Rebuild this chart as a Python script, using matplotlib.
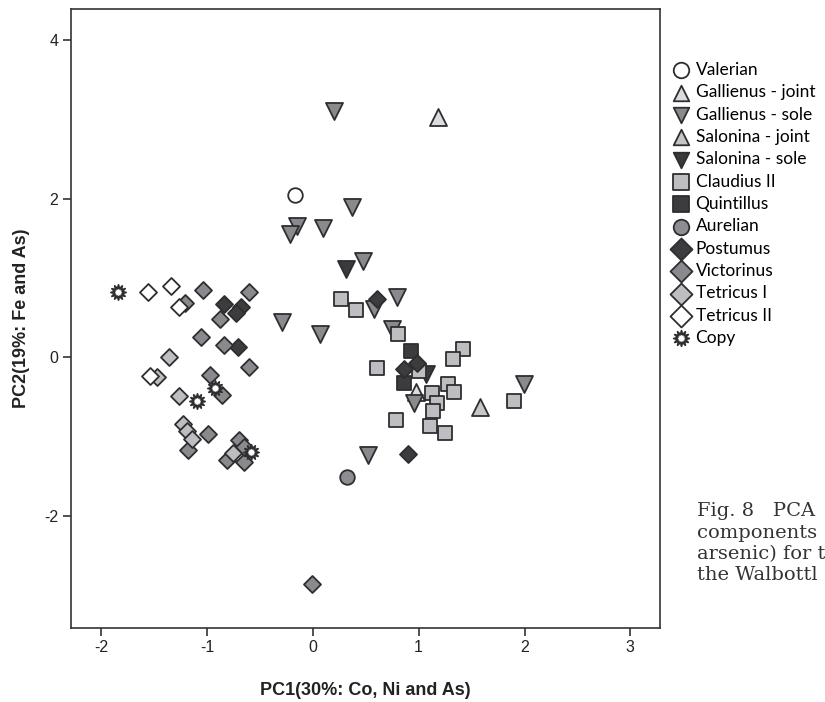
import matplotlib
matplotlib.use("Agg")
import matplotlib.pyplot as plt

# ---- data (PC1, PC2) per group ----
valerian_x = [-0.166]
valerian_y = [2.05]
gall_joint_x = [1.179, 0.977]
gall_joint_y = [3.03, -0.43]
gall_sole_x = [0.196, 0.37, -0.15, -0.214, 0.10, 0.47, 0.798, 0.574, -0.292, 0.07, 0.748, 0.958, 1.998, 0.52]
gall_sole_y = [3.10, 1.89, 1.65, 1.56, 1.63, 1.21, 0.76, 0.605, 0.45, 0.30, 0.353, -0.58, -0.34, -1.23]
salo_joint_x = [1.576]
salo_joint_y = [-0.62]
salo_sole_x = [0.316, 1.07]
salo_sole_y = [1.12, -0.21]
claudius_x = [0.268, 0.41, 0.804, 1.42, 1.324, 0.606, 1.006, 1.125, 1.173, 1.135, 1.11, 1.251, 0.788, 1.277, 1.33, 1.903]
claudius_y = [0.73, 0.60, 0.30, 0.105, -0.02, -0.13, -0.172, -0.446, -0.58, -0.677, -0.866, -0.95, -0.79, -0.337, -0.433, -0.547]
quintillus_x = [0.93, 0.858]
quintillus_y = [0.083, -0.32]
aurelian_x = [0.322]
aurelian_y = [-1.51]
postumus_x = [0.606, 0.864, 0.984, 0.896, -0.837, -0.68, -0.727, -0.708]
postumus_y = [0.73, -0.143, -0.068, -1.22, 0.67, 0.63, 0.56, 0.126]
victorinus_x = [-1.039, -0.601, -1.21, -0.88, -1.058, -0.837, -0.601, -0.97, -0.859, -1.18, -0.986, -0.70, -0.806, -0.648, -0.648, -0.009]
victorinus_y = [0.85, 0.82, 0.68, 0.48, 0.26, 0.155, -0.126, -0.227, -0.475, -1.169, -0.96, -1.04, -1.295, -1.316, -1.127, -2.85]
tetricus1_x = [-1.354, -1.473, -1.263, -1.228, -1.19, -1.143, -0.755]
tetricus1_y = [0.008, -0.252, -0.488, -0.84, -0.925, -1.034, -1.21]
tetricus2_x = [-1.553, -1.338, -1.26, -1.537]
tetricus2_y = [0.82, 0.90, 0.64, -0.236]
copy_x = [-1.836, -0.922, -1.09, -0.585]
copy_y = [0.82, -0.39, -0.547, -1.19]

x_ticks = [-2, -1, 0, 1, 2, 3]
y_ticks = [-2, 0, 2, 4]

groups = [
    ("Valerian", valerian_x, valerian_y, "o", "white", 110),
    ("Gallienus - joint", gall_joint_x, gall_joint_y, "^", "#dcdcde", 150),
    ("Gallienus - sole", gall_sole_x, gall_sole_y, "v", "#8a8a8e", 150),
    ("Salonina - joint", salo_joint_x, salo_joint_y, "^", "#c6c6c9", 150),
    ("Salonina - sole", salo_sole_x, salo_sole_y, "v", "#3a3a3c", 150),
    ("Claudius II", claudius_x, claudius_y, "s", "#bebec2", 110),
    ("Quintillus", quintillus_x, quintillus_y, "s", "#3c3c3e", 110),
    ("Aurelian", aurelian_x, aurelian_y, "o", "#8e8e92", 110),
    ("Postumus", postumus_x, postumus_y, "D", "#3c3c3e", 75),
    ("Victorinus", victorinus_x, victorinus_y, "D", "#8a8a8e", 75),
    ("Tetricus I", tetricus1_x, tetricus1_y, "D", "#bebec2", 75),
    ("Tetricus II", tetricus2_x, tetricus2_y, "D", "white", 75),
    ("Copy", copy_x, copy_y, (12, 1, 0), "white", 120),
]

fig = plt.figure(figsize=(8.25, 7.02), dpi=100)
ax = fig.add_axes([71 / 825, 1 - 628 / 702, (660 - 71) / 825, (628 - 9) / 702])

edge = "#2e2e30"
handles = []
for name, xs, ys, mk, fc, s in groups:
    h = ax.scatter(xs, ys, marker=mk, s=s, facecolor=fc, edgecolor=edge,
                   linewidth=1.3, label=name, zorder=3)
    handles.append(h)

ax.set_xlim(-2.284, 3.28)
ax.set_ylim(-3.41, 4.39)
ax.set_xticks(x_ticks)
ax.set_yticks(y_ticks)
ax.set_xticklabels([str(t) for t in x_ticks])
ax.set_yticklabels([str(t) for t in y_ticks])
for sp in ax.spines.values():
    sp.set_color("#333333")
    sp.set_linewidth(1.2)
ax.tick_params(direction="out", length=6, width=1.2, color="#333333",
               labelsize=11.5, labelcolor="#222222", pad=3,
               top=False, right=False)
for lab in ax.get_xticklabels() + ax.get_yticklabels():
    lab.set_family("Liberation Sans")

ax.set_xlabel("PC1(30%: Co, Ni and As)", fontsize=13, fontweight="bold",
              family="Liberation Sans", color="#222222", labelpad=19)
ax.set_ylabel("PC2(19%: Fe and As)", fontsize=13, fontweight="bold",
              family="Liberation Sans", color="#222222", labelpad=10)

leg = fig.legend(handles=handles, loc="upper left",
                 bbox_to_anchor=(666 / 825, 1 - 55 / 702),
                 frameon=False, handlelength=0.9, handletextpad=0.4,
                 labelspacing=0.365, borderaxespad=0, scatterpoints=1,
                 prop={"family": "Lato", "size": 12.5})
for h in leg.legend_handles:
    h.set_sizes([125])

caption = ["Fig. 8   PCA", "components", "arsenic) for t", "the Walbottl"]
for i, line in enumerate(caption):
    fig.text(697 / 825, 1 - (516 + i * 21.5) / 702, line, fontsize=14,
             family="DejaVu Serif", color="#333333", va="baseline")

fig.savefig("out.png", dpi=100)
